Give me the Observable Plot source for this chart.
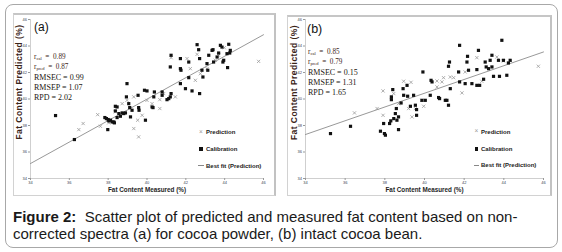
<!DOCTYPE html>
<html><head><meta charset="utf-8">
<script src="https://cdn.jsdelivr.net/npm/d3@7"></script>
<script src="https://cdn.jsdelivr.net/npm/@observablehq/plot@0.6"></script>
<style>
body{margin:0;background:#fff;}
#fig{position:relative;width:562px;height:252px;overflow:hidden;background:#fff;font-family:"Liberation Sans",Arial,sans-serif;}
.abs{position:absolute;white-space:nowrap;}
.outer{left:5px;top:4px;width:551px;height:242px;border:1.5px solid #a8a8a8;border-radius:8px;}
.frame{border:1px solid #d2d2d2;border-top:2px solid #c6c6c6;border-right:2px solid #c2c2c2;background:#fff;}
.stat{font-family:"Liberation Serif","Times New Roman",serif;font-size:8px;line-height:10px;color:#22160f;}
.rstat{font-size:7.2px;color:#3d2519;}
.rstat sub{font-size:4.6px;vertical-align:-1px;}
.leg{font-size:6px;font-weight:bold;line-height:8px;color:#222;}
.tag{font-size:12px;line-height:14px;color:#111;}
.cap{left:13px;top:207.5px;font-size:15px;line-height:17px;color:#1a1a1a;}
svg{position:absolute;top:0;}
</style></head><body><div id="fig">
<div class="abs outer"></div>
<div class="abs frame" style="left:13px;top:13px;width:260px;height:180px;"></div>
<div class="abs frame" style="left:287px;top:15px;width:262px;height:178px;"></div>
<div id="plots"></div>
<div class="abs tag" style="left:34px;top:20px;">(a)</div>
<div class="abs tag" style="left:307px;top:22px;font-size:12.5px;">(b)</div>
<div id="stats"></div>
<div id="legend"></div>
<div class="abs cap"><b>Figure 2:</b>&nbsp; Scatter plot of predicted and measured fat content based on non-<br>corrected spectra (a) for cocoa powder, (b) intact cocoa bean.</div>
</div>
<script>
// ---- data ----
const axisTicks = [34, 36, 38, 40, 42, 44, 46];
const xTitle = "Fat Content Measured (%)";
const yTitle = "Fat Content Predicted (%)";

// Panel (a) cocoa powder
const calAX = [35.29,36.26,37.83,37.91,38.00,38.03,38.12,38.20,38.29,38.32,37.98,38.37,38.46,38.37,38.55,38.46,38.63,38.72,38.80,38.89,38.94,38.97,39.06,39.11,39.23,39.15,39.54,39.57,39.59,39.87,40.00,39.92,40.26,40.31,40.35,40.38,40.78,40.78,41.03,41.12,41.20,41.20,41.24,41.24,41.72,41.72,41.75,41.72,41.98,42.15,42.15,42.32,42.58,42.66,42.71,42.71,42.83,42.88,43.09,43.13,43.18,43.35,43.40,43.43,43.61,43.69,43.78,43.86,43.91,43.95,44.12,44.21,44.26,44.15,44.29];
const calAY = [38.75,36.94,38.60,38.52,38.45,38.35,38.40,38.27,38.27,38.20,37.69,39.45,39.40,39.10,38.90,38.60,38.70,38.95,38.90,38.95,40.16,41.16,39.65,39.35,39.15,38.65,40.28,39.35,39.15,40.66,40.61,38.40,39.40,39.35,40.16,40.53,40.53,40.28,39.95,40.03,40.16,42.42,43.30,40.41,43.05,42.29,42.17,41.16,40.78,42.79,41.61,40.61,44.10,43.72,43.05,40.41,42.17,41.66,42.67,42.17,43.30,43.67,43.72,42.79,43.17,43.47,44.05,43.92,42.79,42.92,43.42,44.13,43.47,42.37,43.67];
const predAX = [36.49,36.71,37.46,37.60,38.03,38.37,38.72,38.97,39.32,39.32,39.52,39.57,39.75,40.00,40.26,40.66,40.66,40.86,41.24,41.46,42.06,42.23,42.49,42.58,42.75,43.09,43.52,43.69,43.98,45.75];
const predAY = [37.69,38.15,38.82,37.94,38.20,39.03,39.65,39.90,40.16,37.77,38.40,37.14,38.77,39.90,39.65,39.28,39.95,40.41,43.12,40.16,43.05,42.29,41.41,43.37,41.91,42.29,42.92,43.30,43.87,42.84];
const fitX = [34, 46];
const fitAY = [35.13, 44.85];
const statsA = ["0.89", "0.87", "RMSEC = 0.99", "RMSEP = 1.07", "RPD = 2.02"];

// Panel (b) intact cocoa bean
const calBX = [35.26,36.27,37.78,37.98,38.03,37.94,38.24,38.30,38.45,38.53,38.61,38.69,38.33,38.33,38.40,38.58,38.69,38.82,38.92,38.95,39.12,39.15,39.29,39.45,39.54,39.60,39.60,39.87,39.92,40.04,40.29,40.33,40.38,40.71,40.76,41.05,41.13,41.21,41.21,41.26,41.30,41.72,41.77,41.77,42.05,42.14,42.17,42.22,42.39,42.64,42.64,42.72,42.78,42.98,43.06,43.11,43.23,43.31,43.40,43.40,43.48,43.73,43.78,43.90,43.98,44.15,44.23,44.32];
const calBY = [37.39,37.94,37.57,37.39,37.27,38.15,38.15,38.35,38.52,38.90,38.40,37.69,40.16,39.95,40.71,39.28,38.65,39.70,40.78,40.28,41.03,40.21,39.45,40.28,39.53,39.20,38.77,39.90,42.04,39.90,40.28,41.41,41.29,40.11,40.03,39.90,39.90,39.53,42.47,42.79,40.78,42.04,44.05,41.29,41.16,42.79,43.22,42.17,41.16,41.03,42.22,43.67,41.03,41.49,42.79,42.42,42.29,42.92,43.30,42.42,41.71,42.92,41.71,44.43,42.92,41.79,42.72,42.92];
const predBX = [36.47,37.61,37.91,37.91,38.45,38.69,38.95,39.20,39.32,39.37,39.54,39.87,39.96,40.63,40.63,40.88,40.96,41.30,41.47,41.89,42.05,42.64,42.89,43.65,43.98,45.74];
const predBY = [38.95,39.28,40.61,38.77,40.41,39.65,41.34,39.28,41.26,38.65,39.28,39.90,39.45,41.36,40.91,41.29,41.61,41.66,41.61,40.46,42.04,43.12,41.34,43.17,42.87,42.47];
const fitBY = [37.32, 43.55];
const statsB = ["0.85", "0.79", "RMSEC = 0.15", "RMSEP = 1.31", "RPD = 1.65"];

const legendLabels = ["Prediction", "Calibration", "Best fit (Prediction)"];

// ---- build ----
const zip = (xs, ys) => xs.map((x, i) => ({x, y: ys[i]}));

function panel({w, ml, mr, cal, pred, fit, tdx, tdy}) {
  const svg = Plot.plot({
    width: w, height: 200,
    marginLeft: ml, marginRight: mr, marginTop: 19, marginBottom: 22,
    x: {domain: [34, 46]},
    y: {domain: [34, 46]},
    style: {fontSize: "4px", fontFamily: "Liberation Sans, Arial, sans-serif", color: "#3a3f55", background: "transparent", overflow: "visible"},
    marks: [
      Plot.ruleX([34], {stroke: "#cfcfcf", strokeWidth: 1}),
      Plot.ruleY([34], {stroke: "#cfcfcf", strokeWidth: 1}),
      Plot.axisX({ticks: axisTicks, tickSize: 2, tickPadding: 1, label: null, fontSize: 4, stroke: "#999", fill: "#3a3f55"}),
      Plot.axisY({ticks: axisTicks, tickSize: 2, tickPadding: 1.5, label: null, fontSize: 4, stroke: "#999", fill: "#3a3f55"}),
      Plot.line(fit, {x: "x", y: "y", stroke: "#8c8c8c", strokeWidth: 0.9}),
      Plot.dot(pred, {x: "x", y: "y", symbol: "times", stroke: "#9a9a9a", r: 1.6, strokeWidth: 0.8}),
      Plot.dot(cal, {x: "x", y: "y", symbol: "square", fill: "#111", r: 1.8}),
      Plot.text([xTitle], {text: d => d, frameAnchor: "bottom", textAnchor: "middle", dy: 13, fontWeight: "bold", fontSize: 7, fill: "#1e1e1e"}),
      Plot.text([yTitle], {text: d => d, frameAnchor: "left", textAnchor: "middle", rotate: -90, dx: tdx, dy: tdy, fontWeight: "bold", fontSize: 8.5, fill: "#3a2418"})
    ]
  });
  svg.querySelectorAll("text").forEach(t => {
    if (t.textContent === xTitle) { t.setAttribute("textLength", "78"); t.setAttribute("lengthAdjust", "spacingAndGlyphs"); }
    if (t.textContent === yTitle) { t.style.letterSpacing = "0.45px"; }
  });
  return svg;
}

const plots = document.getElementById("plots");
const a = panel({w: 280, ml: 30, mr: 17, cal: zip(calAX, calAY), pred: zip(predAX, predAY), fit: zip(fitX, fitAY), tdx: -11, tdy: -17});
a.style.left = "0px";
const b = panel({w: 282, ml: 25, mr: 19, cal: zip(calBX, calBY), pred: zip(predBX, predBY), fit: zip(fitX, fitBY), tdx: -11, tdy: -16.5});
b.style.left = "280px";
plots.append(a, b);

// stats text
function stats(vals, left, ys) {
  const box = document.getElementById("stats");
  const rLabels = ["cal", "pred"];
  vals.forEach((v, i) => {
    const d = document.createElement("div");
    d.className = "abs stat" + (i < 2 ? " rstat" : "");
    d.style.left = left + "px";
    d.style.top = (ys[i] - 5) + "px";
    if (i < 2) d.innerHTML = `r<sub>${rLabels[i]}</sub>&nbsp; = &nbsp;${v}`;
    else d.textContent = v;
    box.append(d);
  });
}
stats(statsA, 34, [57, 67, 77.7, 87.7, 97.7]);
stats(statsB, 308, [52, 62, 72.7, 82.7, 92.7]);

// legend
function legend(mx, tx, ys) {
  const box = document.getElementById("legend");
  legendLabels.forEach((lab, i) => {
    const t = document.createElement("div");
    t.className = "abs leg";
    t.style.left = tx + "px";
    t.style.top = (ys[i] - 3.9) + "px";
    t.textContent = lab;
    box.append(t);
    const m = document.createElement("div");
    m.className = "abs";
    if (i === 0) {
      m.textContent = "\u00d7";
      m.style.cssText += `left:${mx - 2}px;top:${ys[i] - 4.5}px;font-size:6.5px;line-height:8px;color:#999;`;
    } else if (i === 1) {
      m.style.cssText += `left:${mx - 1.6}px;top:${ys[i] - 1.6}px;width:3.2px;height:3.2px;background:#111;`;
    } else {
      m.style.cssText += `left:${mx - 3}px;top:${ys[i] - 0.5}px;width:5.5px;height:1px;background:#888;`;
    }
    box.append(m);
  });
}
legend(201, 206, [132.3, 149, 165.7]);
legend(476.5, 481, [131.7, 149, 165]);
</script>
</body></html>
